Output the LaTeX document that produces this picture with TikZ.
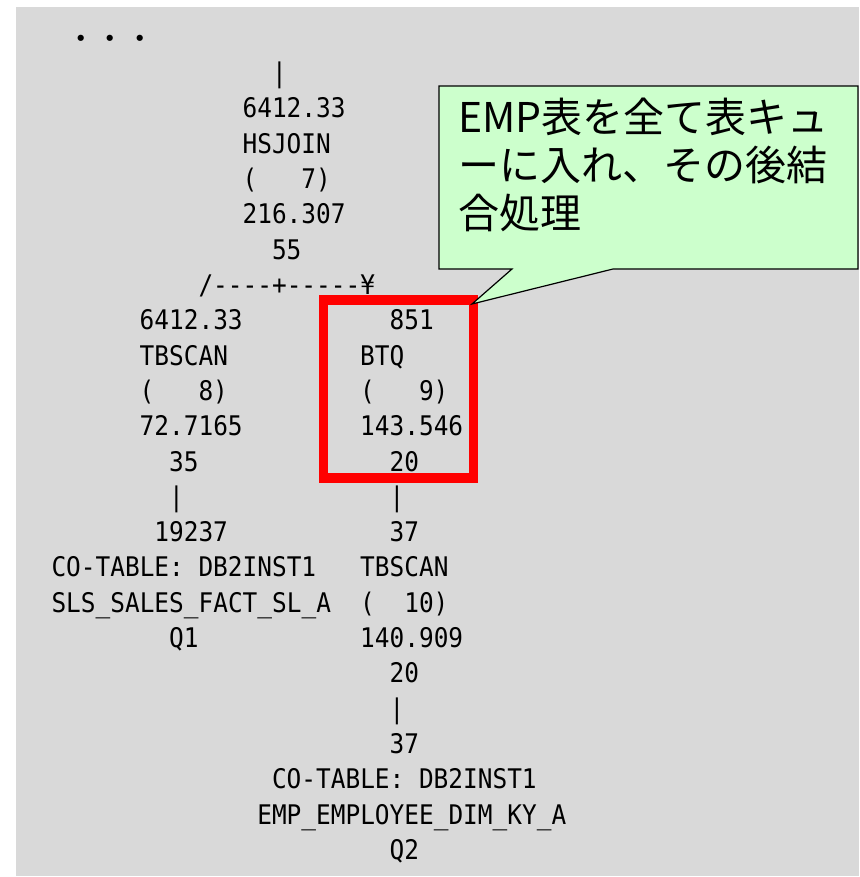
\documentclass[tikz,border=0pt]{standalone}
\usepackage{fontspec}
\newfontfamily\monof[FakeStretch=0.905,Ligatures=TeXOff]{DejaVu Sans Mono}
\newfontfamily\cjk{Noto Sans CJK JP}
\definecolor{bggray}{HTML}{D9D9D9}
\definecolor{callgreen}{HTML}{CCFFCC}
\tikzset{
  mono/.style={font=\monof\fontsize{27}{27}\selectfont, anchor=base west, inner sep=0pt, outer sep=0pt, text=black},
  calltext/.style={font=\cjk\fontsize{41}{41}\selectfont, anchor=base west, inner sep=0pt, outer sep=0pt},
  dotstext/.style={font=\cjk\fontsize{29.4}{29.4}\selectfont, anchor=base west, inner sep=0pt, outer sep=0pt},
  hilite/.style={draw=red, line width=9.5pt},
  callbox/.style={fill=callgreen, draw=black, line width=1.2pt, line join=miter}
}
\newcommand\mt[4]{\node[mono] (#1) at ({51.5+14.7*#2},{118+35.3*(#3-1)}) {#4};}
\begin{document}
\begin{tikzpicture}[x=1pt,y=-1pt]
\useasboundingbox (0,0) rectangle (859,877);
\fill[bggray] (16,7) rectangle (859,876);
% dots
\node[dotstext] (dots) at (66.3,49.5) {・・・};
% top join
\mt{t0}{15}{0}{|}
\mt{t1}{13}{1}{6412.33}
\mt{t2}{13}{2}{HSJOIN}
\mt{t3a}{13}{3}{(}
\mt{t3b}{17}{3}{7)}
\mt{t4}{13}{4}{216.307}
\mt{t5}{15}{5}{55}
\mt{t6}{10}{6}{/----+-----¥}
% left branch
\mt{l7}{6}{7}{6412.33}
\mt{l8}{6}{8}{TBSCAN}
\mt{l9a}{6}{9}{(}
\mt{l9b}{10}{9}{8)}
\mt{l10}{6}{10}{72.7165}
\mt{l11}{8}{11}{35}
\mt{l12}{8}{12}{|}
\mt{l13}{7}{13}{19237}
\mt{l14a}{0}{14}{CO-TABLE:}
\mt{l14b}{10}{14}{DB2INST1}
\mt{l15}{0}{15}{SLS\_SALES\_FACT\_SL\_A}
\mt{l16}{8}{16}{Q1}
% right branch
\mt{r7}{23}{7}{851}
\mt{r8}{21}{8}{BTQ}
\mt{r9a}{21}{9}{(}
\mt{r9b}{25}{9}{9)}
\mt{r10}{21}{10}{143.546}
\mt{r11}{23}{11}{20}
\mt{r12}{23}{12}{|}
\mt{r13}{23}{13}{37}
\mt{r14}{21}{14}{TBSCAN}
\mt{r15a}{21}{15}{(}
\mt{r15b}{24}{15}{10)}
\mt{r16}{21}{16}{140.909}
\mt{r17}{23}{17}{20}
\mt{r18}{23}{18}{|}
\mt{r19}{23}{19}{37}
\mt{r20a}{15}{20}{CO-TABLE:}
\mt{r20b}{25}{20}{DB2INST1}
\mt{r21}{14}{21}{EMP\_EMPLOYEE\_DIM\_KY\_A}
\mt{r22}{23}{22}{Q2}
% highlight box
\draw[hilite] (323.5,300) rectangle (473.5,478);
% callout
\coordinate (tip) at (472,304);
\draw[callbox] (439,86) -- (858,86) -- (858,269) -- (613,269) -- (tip) -- (512,269) -- (439,269) -- cycle;
\node[calltext] (c1) at (458,133) {EMP表を全て表キュ};
\node[calltext] (c2) at (458,181) {ーに入れ、その後結};
\node[calltext] (c3) at (458,229) {合処理};
\end{tikzpicture}
\end{document}
